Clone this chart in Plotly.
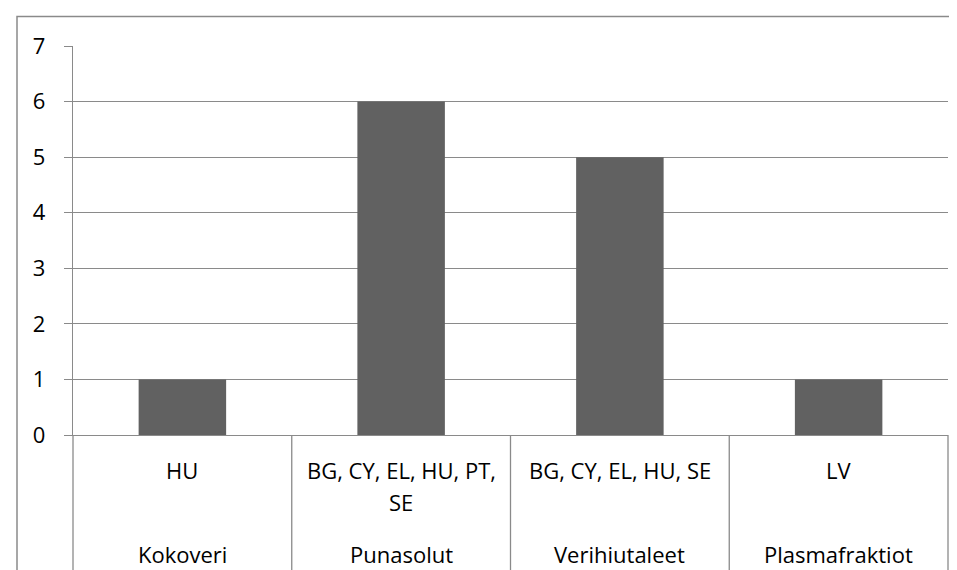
import plotly.graph_objects as go

# Data
groups = ["Kokoveri", "Punasolut", "Verihiutaleet", "Plasmafraktiot"]
countries = ["HU", "BG, CY, EL, HU, PT,\nSE", "BG, CY, EL, HU, SE", "LV"]
values = [1, 6, 5, 1]
y_ticks = [0, 1, 2, 3, 4, 5, 6, 7]

FONT = "Open Sans"
FS = 22
GRID = "#8a8a8a"
BAR = "#616161"

# layout geometry (px)
W, H = 957, 570
L, R, T, B = 65, 17, 38, 143
plot_h = H - T - B
plot_w = W - L - R

def py(p):
    return (H - B - p) / plot_h

def px(p):
    return (p - L) / plot_w

n = len(groups)
xs = list(range(n))

fig = go.Figure()
fig.add_trace(go.Bar(x=xs, y=values, marker=dict(color=BAR, line=dict(width=0)),
                     width=0.4, hoverinfo="skip"))

shapes = []
# category dividers
for i in range(n + 1):
    shapes.append(dict(type="line", xref="paper", yref="paper",
                       x0=i / n, x1=i / n, y0=0, y1=py(562),
                       line=dict(color=GRID, width=1.3)))
# outer chart border
shapes.append(dict(type="rect", xref="paper", yref="paper",
                   x0=px(9), x1=px(1000), y0=py(620), y1=py(8.5),
                   line=dict(color=GRID, width=1.5), fillcolor="rgba(0,0,0,0)"))

annotations = []
for i in range(n):
    cx = (i + 0.5) / n
    for j, line in enumerate(countries[i].split("\n")):
        annotations.append(dict(x=cx, y=py(462 + 32 * j), xref="paper", yref="paper",
                                text=line, showarrow=False, xanchor="center", yanchor="middle",
                                font=dict(family=FONT, size=FS, color="black")))
    annotations.append(dict(x=cx, y=py(546), xref="paper", yref="paper",
                            text=groups[i], showarrow=False, xanchor="center", yanchor="middle",
                            font=dict(family=FONT, size=FS, color="black")))

fig.update_layout(
    width=W, height=H,
    margin=dict(l=L, r=R, t=T, b=B, pad=0),
    paper_bgcolor="white", plot_bgcolor="white",
    showlegend=False,
    bargap=0.6,
    xaxis=dict(range=[-0.5, n - 0.5], showticklabels=False, showgrid=False,
               zeroline=False, showline=True, linecolor=GRID, linewidth=1.3,
               ticks="", fixedrange=True),
    yaxis=dict(range=[0, 7], tickvals=y_ticks, ticktext=[str(v) for v in y_ticks],
               showgrid=True, gridcolor=GRID, gridwidth=1.3,
               zeroline=False, showline=True, linecolor=GRID, linewidth=1.3,
               ticks="outside", ticklen=8, tickcolor=GRID, tickwidth=1.3,
               ticklabelstandoff=14,
               tickfont=dict(family=FONT, size=FS, color="black"), fixedrange=True),
    shapes=shapes,
    annotations=annotations,
)

fig.write_html("out.html")
